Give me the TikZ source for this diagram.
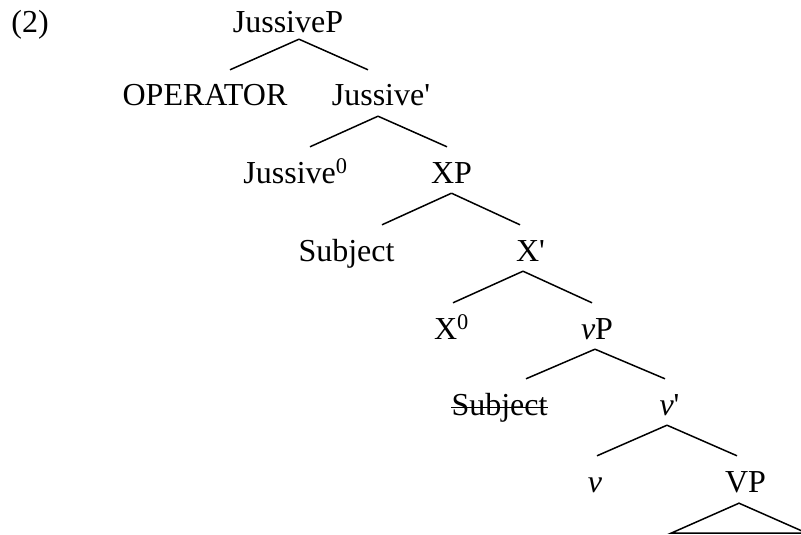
\documentclass[tikz,border=0pt]{standalone}
\usepackage{fontspec}
\setmainfont{Liberation Serif}
\newcommand{\prm}{\textquotesingle}
\tikzset{
    cat/.style =    {anchor=base,
                    inner sep=0pt,
                    text=black,
                    text height=36pt,
                    text depth=10pt,
                    font=\fontsize{32}{38}\selectfont},
    branch/.style = {line width=1.5pt,
                    draw=black},
    -,
    x=1pt,
    y=-1pt}

\begin{document}
\begin{tikzpicture}
                \useasboundingbox (0,0) rectangle (801,535);
                \clip (0,0) rectangle (801,535);
                \node[cat]       (ex)  at (30,33)     {(2)};
                \node[cat]       (JP)  at (288,33)    {JussiveP};
                \node[cat]       (OP)  at (205,106)   {OPERATOR};
                \node[cat]       (JB)  at (381,106)   {Jussive\prm};
                \node[cat]       (J0)  at (295.5,183) {Jussive\textsuperscript{0}};
                \node[cat]       (XP)  at (451.5,183) {XP};
                \node[cat]       (SU)  at (346.5,261) {Subject};
                \node[cat]       (XB)  at (530.5,261) {X\prm};
                \node[cat]       (X0)  at (451.5,339) {X\textsuperscript{0}};
                \node[cat]       (vP)  at (597,339)   {\textit{v}P};
                \node[cat]       (SS)  at (499.5,415) {Subject};
                \node[cat]       (vB)  at (669.5,415) {\textit{v}\prm};
                \node[cat]       (v)   at (595,492)   {\textit{v}};
                \node[cat]       (VP)  at (745.5,492) {VP};

                % struck-out copy
                \draw [branch]  ([yshift=7.5pt]SS.base west) -- ([yshift=7.5pt]SS.base east);

                \draw [branch]  ([xshift=11pt,yshift=4pt]JP.south) edge []  ([xshift=25pt]OP.north)
                                ([xshift=11pt,yshift=4pt]JP.south) edge []  ([xshift=-13pt]JB.north)
                                ([xshift=-3pt]JB.south)   edge []  ([xshift=14.5pt]J0.north)
                                ([xshift=-3pt]JB.south)   edge []  ([xshift=-4.5pt]XP.north)
                                (XP.south)                edge []  ([xshift=35.5pt]SU.north)
                                (XP.south)                edge []  ([xshift=-10.5pt]XB.north)
                                ([xshift=-7.5pt]XB.south) edge []  ([xshift=1.5pt]X0.north)
                                ([xshift=-7.5pt]XB.south) edge []  ([xshift=-5pt]vP.north)
                                ([xshift=-2pt]vP.south)   edge []  ([xshift=26.5pt]SS.north)
                                ([xshift=-2pt]vP.south)   edge []  ([xshift=-4.5pt]vB.north)
                                ([xshift=-2.5pt]vB.south) edge []  ([xshift=2pt]v.north)
                                ([xshift=-2.5pt]vB.south) edge []  ([xshift=-8.5pt]VP.north);
                \draw [branch]  ([xshift=-6.5pt,yshift=-1pt]VP.south) -- ++(-68,30) -- ++(136,0) -- cycle;
\end{tikzpicture}
\end{document}
